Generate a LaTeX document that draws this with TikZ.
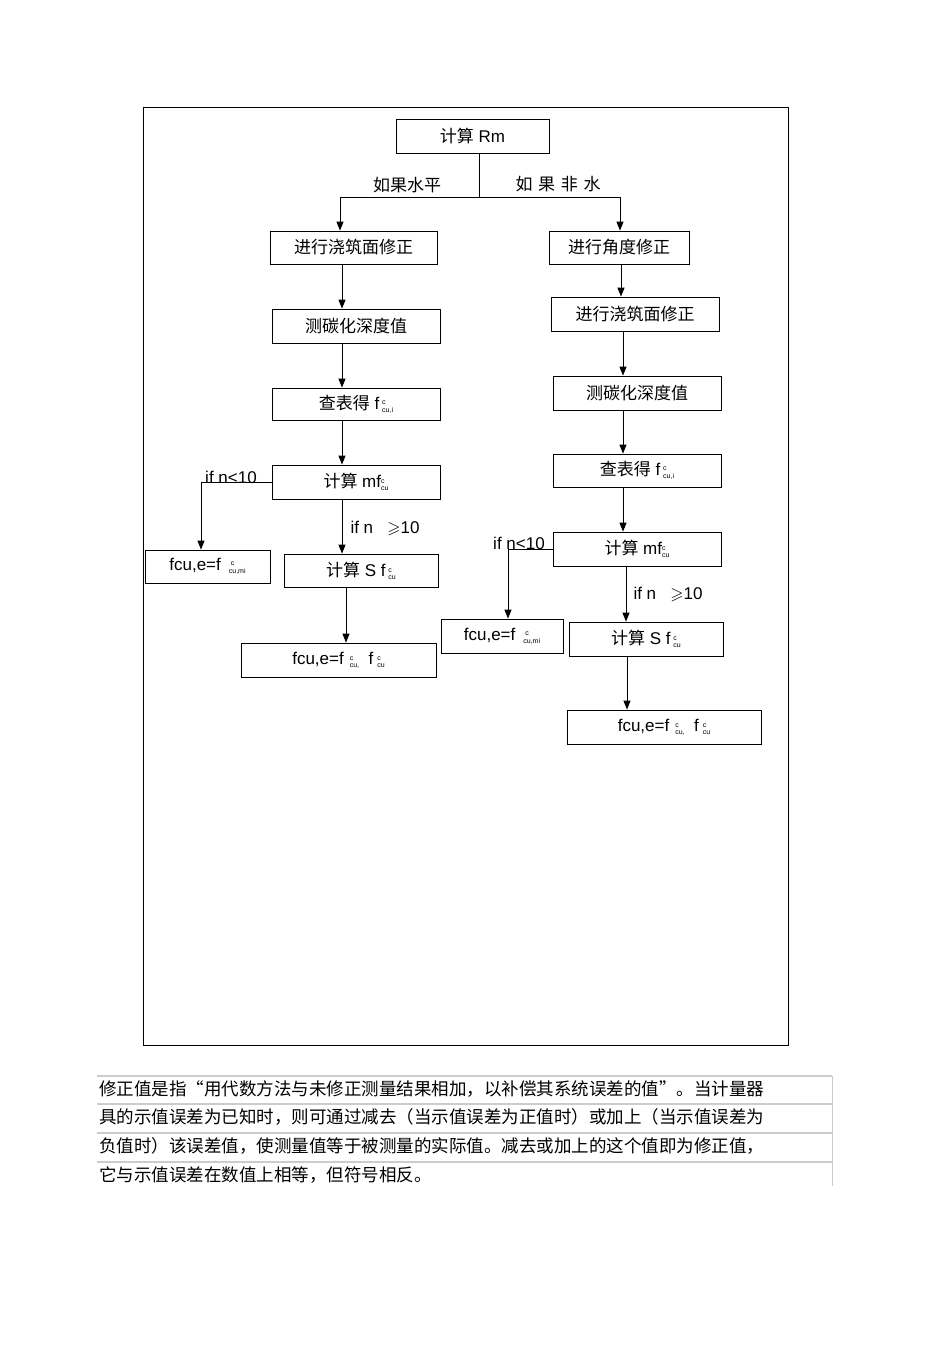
\documentclass[tikz,border=0pt]{standalone}
\usepackage{amssymb}
\usepackage{fontspec}
\setmainfont{Liberation Sans}
\newfontfamily\cjk{Noto Sans CJK SC}
\usetikzlibrary{arrows.meta}
\newcommand{\fsb}[2]{\raisebox{-3pt}{\fontsize{7}{9}\selectfont\shortstack[l]{#1\\#2}}}
\begin{document}
\begin{tikzpicture}[x=1pt,y=-1pt,
 box/.style={draw,line width=0.8pt,inner sep=0pt,font=\fontsize{17}{20}\selectfont},
 arr/.style={line width=1pt,-{Triangle[length=9pt,width=7pt]}},
 ln/.style={line width=1pt},
 lab/.style={font=\fontsize{17}{20}\selectfont,inner sep=0pt}]
\useasboundingbox (0,0) rectangle (950,1345);
\draw[line width=0.7pt] (143,107) rectangle (788,1045);
\newcommand{\bx}[6]{\node[box,minimum width=#4-#2,minimum height=#5-#3] (#1) at ({(#2+#4)/2},{(#3+#5)/2}) {#6};}
\bx{rm}{396}{119}{549}{153}{{\cjk 计算} Rm}
\bx{l1}{270}{231}{437}{264}{\cjk 进行浇筑面修正}
\bx{r1}{549}{231}{689}{264}{\cjk 进行角度修正}
\bx{l2}{272}{309}{440}{343}{\cjk 测碳化深度值}
\bx{l3}{272}{388}{440}{420}{{\cjk 查表得} f\,\fsb{c}{cu,i}}
\bx{l4}{272}{465}{440}{499}{{\cjk 计算} mf\fsb{c}{cu}}
\bx{l5}{145}{550}{270}{583}{fcu,e=f\hspace{8pt}\fsb{\ c}{cu,mi}}
\bx{l6}{284}{554}{438}{587}{{\cjk 计算} S f\,\fsb{c}{cu}}
\bx{l7}{241}{643}{436}{677}{fcu,e=f\hspace{6pt}\fsb{c}{cu,}\ \ f\hspace{4pt}\fsb{c}{cu}}
\bx{r2}{551}{297}{719}{331}{\cjk 进行浇筑面修正}
\bx{r3}{553}{376}{721}{410}{\cjk 测碳化深度值}
\bx{r4}{553}{454}{721}{487}{{\cjk 查表得} f\,\fsb{c}{cu,i}}
\bx{r5}{553}{532}{721}{566}{{\cjk 计算} mf\fsb{c}{cu}}
\bx{r6}{441}{619}{563}{653}{fcu,e=f\hspace{8pt}\fsb{\ c}{cu,mi}}
\bx{r7}{569}{622}{723}{656}{{\cjk 计算} S f\,\fsb{c}{cu}}
\bx{r8}{567}{710}{761}{744}{fcu,e=f\hspace{6pt}\fsb{c}{cu,}\ \ f\hspace{4pt}\fsb{c}{cu}}
\coordinate (b0) at (479,197); \coordinate (bl) at (340,197); \coordinate (br) at (620,197);
\draw[ln] (rm.south -| b0) -- (b0);
\draw[ln] (bl) -- (br);
\draw[arr] (bl) -- (bl |- l1.north);
\draw[arr] (br) -- (br |- r1.north);
\node[lab,font=\cjk\fontsize{17}{20}\selectfont] (t1) at (407,185) {如果水平};
\node[lab,font=\cjk\fontsize{17}{20}\selectfont] (t2) at (558,184) {如\,\,果\,\,非\,\,水};
\foreach \a/\b/\x in {l1/l2/342,l2/l3/342,l3/l4/342,l4/l6/342,l6/l7/346,r1/r2/621,r2/r3/623,r3/r4/623,r4/r5/623,r5/r7/626,r7/r8/627}
  \draw[arr] (\a.south -| \x,0) -- (\b.north -| \x,0);
\coordinate (c1) at (201,482); \coordinate (c2) at (508,549);
\draw[ln] (l4.west) -- (c1); \draw[arr] (c1) -- (l5.north -| c1);
\draw[ln] (r5.west) -- (c2); \draw[arr] (c2) -- (r6.north -| c2);
\node[lab] (n1) at (231,477) {if n<10};
\node[lab] (n2) at (519,543) {if n<10};
\node[lab] (n3) at (385,528) {if n\ \ \ $\geqslant$10};
\node[lab] (n4) at (668,594) {if n\ \ \ $\geqslant$10};
\foreach \y in {1076,1104,1133,1162}
  \draw[gray!40,line width=1.2pt] (97,\y) -- (832,\y);
\draw[gray!40,line width=0.8pt] (832,1076) -- (832,1186);
\foreach \y/\t in {1089/{修正值是指“用代数方法与未修正测量结果相加，以补偿其系统误差的值”。当计量器},
  1117/{具的示值误差为已知时，则可通过减去（当示值误差为正值时）或加上（当示值误差为},
  1146/{负值时）该误差值，使测量值等于被测量的实际值。减去或加上的这个值即为修正值，},
  1175/{它与示值误差在数值上相等，但符号相反。}}
  \node[anchor=west,inner sep=0pt,font=\cjk\fontsize{17.5}{20}\selectfont] at (99,\y) {\t};
\end{tikzpicture}
\end{document}
